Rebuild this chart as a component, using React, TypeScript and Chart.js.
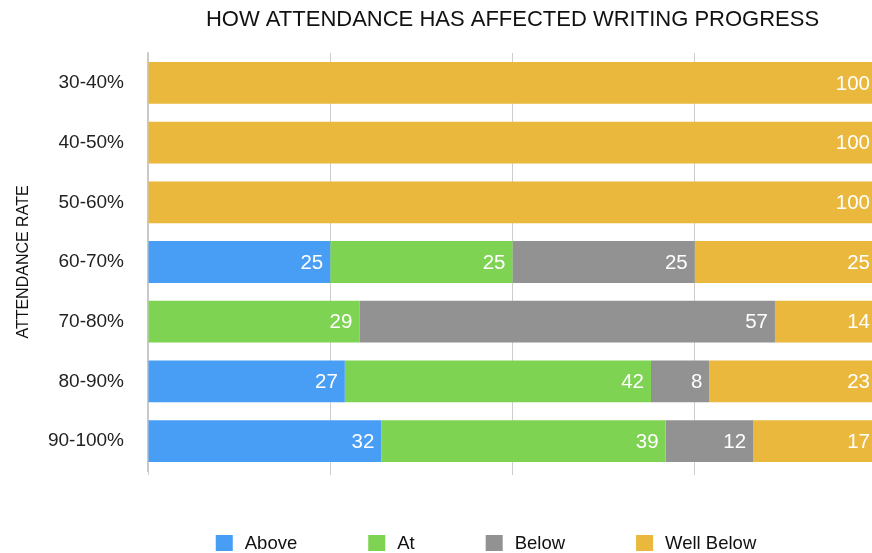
import React, { useEffect, useRef } from "react";
import { Chart, registerables } from "chart.js";

Chart.register(...registerables);

const TITLE = "HOW ATTENDANCE HAS AFFECTED WRITING PROGRESS";
const Y_TITLE = "ATTENDANCE RATE";
const categories = ["30-40%", "40-50%", "50-60%", "60-70%", "70-80%", "80-90%", "90-100%"];
const seriesNames = ["Above", "At", "Below", "Well Below"];
const above = [0, 0, 0, 25, 0, 27, 32];
const at = [0, 0, 0, 25, 29, 42, 39];
const below = [0, 0, 0, 25, 57, 8, 12];
const wellBelow = [100, 100, 100, 25, 14, 23, 17];
const colors = ["#489DF5", "#7ED452", "#929292", "#EAB83D"];
const xTicks = [0, 25, 50, 75, 100];

const FONT = "'Liberation Sans', Arial, Helvetica, sans-serif";

export default function App() {
  const ref = useRef<HTMLCanvasElement | null>(null);

  useEffect(() => {
    if (!ref.current) return;
    const values = [above, at, below, wellBelow];

    const labelPlugin = {
      id: "valueLabels",
      afterDatasetsDraw(chart: any) {
        const ctx = chart.ctx;
        ctx.save();
        ctx.font = `20.5px ${FONT}`;
        ctx.fillStyle = "#ffffff";
        ctx.textAlign = "right";
        ctx.textBaseline = "middle";
        chart.data.datasets.forEach((ds: any, di: number) => {
          const meta = chart.getDatasetMeta(di);
          meta.data.forEach((el: any, i: number) => {
            const v = ds.data[i];
            if (v > 0) ctx.fillText(String(v), el.x - 7, el.y + 1);
          });
        });
        ctx.restore();
      },
    };

    const titlePlugin = {
      id: "customTitle",
      afterDraw(chart: any) {
        const ctx = chart.ctx;
        const a = chart.chartArea;
        ctx.save();
        ctx.font = `22px ${FONT}`;
        ctx.fillStyle = "#111111";
        ctx.textAlign = "center";
        ctx.textBaseline = "middle";
        ctx.fillText(TITLE, (a.left + a.right) / 2, 20);
        ctx.restore();
      },
    };

    const legendPlugin = {
      id: "customLegend",
      afterDraw(chart: any) {
        const ctx = chart.ctx;
        ctx.save();
        ctx.font = `18.5px ${FONT}`;
        const boxW = 17;
        const boxH = 16;
        const textOff = 29;
        const gap = 71;
        const widths = seriesNames.map((n) => textOff + ctx.measureText(n).width);
        const total = widths.reduce((s, w) => s + w, 0) + gap * (seriesNames.length - 1);
        const centerX = chart.chartArea.left + 338;
        let x = centerX - total / 2;
        const y = 543;
        seriesNames.forEach((n, i) => {
          ctx.fillStyle = colors[i];
          ctx.fillRect(x, y - boxH / 2, boxW, boxH);
          ctx.fillStyle = "#111111";
          ctx.textAlign = "left";
          ctx.textBaseline = "middle";
          ctx.fillText(n, x + textOff, y + 1);
          x += widths[i] + gap;
        });
        ctx.restore();
      },
    };

    const chart = new Chart(ref.current, {
      type: "bar",
      data: {
        labels: categories,
        datasets: seriesNames.map((name, i) => ({
          label: name,
          data: values[i],
          backgroundColor: colors[i],
          borderWidth: 0,
          barPercentage: 0.7,
          categoryPercentage: 1,
        })),
      },
      options: {
        indexAxis: "y",
        animation: false,
        responsive: true,
        maintainAspectRatio: false,
        layout: { padding: { left: 0, right: 7, top: 53, bottom: 78 } },
        plugins: {
          legend: { display: false },
          title: { display: false },
          tooltip: { enabled: false },
        },
        scales: {
          x: {
            stacked: true,
            min: 0,
            max: 100,
            position: "bottom",
            afterBuildTicks: (scale: any) => {
              scale.ticks = xTicks.map((v) => ({ value: v }));
            },
            afterFit: (scale: any) => {
              scale.height = 4;
            },
            ticks: { display: false },
            grid: {
              display: true,
              color: "#cdcdcd",
              lineWidth: 1,
              drawTicks: true,
              tickLength: 4,
            },
            border: { display: false },
          },
          y: {
            stacked: true,
            afterFit: (scale: any) => {
              scale.width = 148;
            },
            grid: { display: false, drawTicks: false },
            border: { display: true, color: "#c8c8c8", width: 1.5 },
            ticks: {
              color: "#222222",
              padding: 24,
              font: { family: FONT, size: 19 },
            },
            title: {
              display: true,
              text: Y_TITLE,
              color: "#111111",
              font: { family: FONT, size: 16 },
              padding: { top: 14, bottom: 0 },
            },
          },
        },
      },
      plugins: [labelPlugin, titlePlugin, legendPlugin],
    } as any);

    return () => chart.destroy();
  }, []);

  return (
    <div
      style={{
        position: "absolute",
        left: 0,
        top: 0,
        width: 872,
        height: 553,
        overflow: "hidden",
        background: "#ffffff",
      }}
    >
      <div style={{ position: "absolute", left: 0, top: 0, width: 884, height: 553 }}>
        <canvas ref={ref} />
      </div>
    </div>
  );
}
